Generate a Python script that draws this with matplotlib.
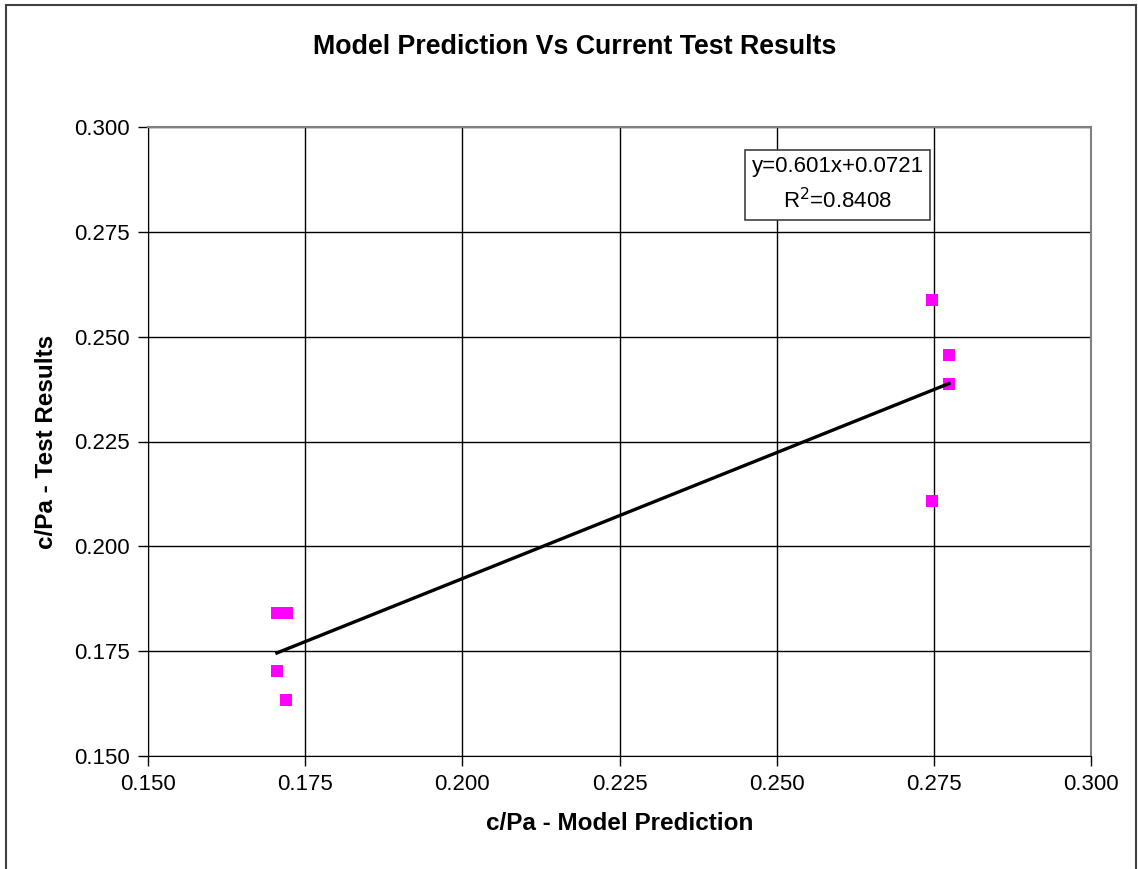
import matplotlib
matplotlib.use("Agg")
import matplotlib.pyplot as plt
from matplotlib.patches import Rectangle
import numpy as np

plt.rcParams["font.family"] = ["Liberation Sans", "DejaVu Sans"]

# c/Pa - modelo vs ensayo
modelo = [0.2747, 0.2774, 0.2774, 0.2747, 0.1705, 0.1721, 0.1705, 0.1720]
ensayo = [0.2587, 0.2456, 0.2386, 0.2108, 0.1841, 0.1841, 0.1703, 0.1634]
pendiente, intercepto = 0.601, 0.0721
r2 = 0.8408
ticks = [0.150, 0.175, 0.200, 0.225, 0.250, 0.275, 0.300]

fig = plt.figure(figsize=(11.38, 8.69), dpi=100)
ax = fig.add_axes([148 / 1138, 1 - 756 / 869, (1091 - 148) / 1138, (756 - 127) / 869])

# marco exterior del gráfico
fig.patches.append(Rectangle((6 / 1138, -0.05), (1136 - 6) / 1138, 1 - 5 / 869 + 0.05,
                             transform=fig.transFigure, fill=False,
                             edgecolor="#404040", lw=1.5))

ax.scatter(modelo, ensayo, marker="s", s=75, color="#ff00ff", zorder=3, linewidths=0)
xs = np.array([min(modelo), max(modelo)])
ax.plot(xs, pendiente * xs + intercepto, color="black", lw=2.4, zorder=4)

ax.set_xlim(0.150, 0.300)
ax.set_ylim(0.150, 0.300)
ax.set_xticks(ticks)
ax.set_yticks(ticks)
ax.set_xticklabels([f"{t:.3f}" for t in ticks])
ax.set_yticklabels([f"{t:.3f}" for t in ticks])
ax.tick_params(labelsize=16, direction="out", length=7, width=1, pad=6)
ax.grid(True, color="black", lw=1)
ax.set_axisbelow(True)
for lado in ["left", "bottom"]:
    ax.spines[lado].set_color("black")
for lado in ["top", "right"]:
    ax.spines[lado].set_color("#808080")
    ax.spines[lado].set_linewidth(1.5)

ax.set_xlabel("c/Pa - Model Prediction", fontsize=17.5, fontweight="bold", labelpad=12)
ax.set_ylabel("c/Pa - Test Results", fontsize=17.5, fontweight="bold", labelpad=12)
fig.text(575 / 1138, 1 - 47 / 869, "Model Prediction Vs Current Test Results",
         fontsize=19.3, fontweight="bold", ha="center", va="center")

ax.text(0.2597, 0.2862, f"y={pendiente}x+{intercepto}\nR$^2$={r2}",
        fontsize=16, ha="center", va="center", linespacing=1.55,
        bbox=dict(boxstyle="square,pad=0.3", facecolor="white", edgecolor="#404040", lw=1.2),
        zorder=5)

fig.savefig("out.png", dpi=100)
